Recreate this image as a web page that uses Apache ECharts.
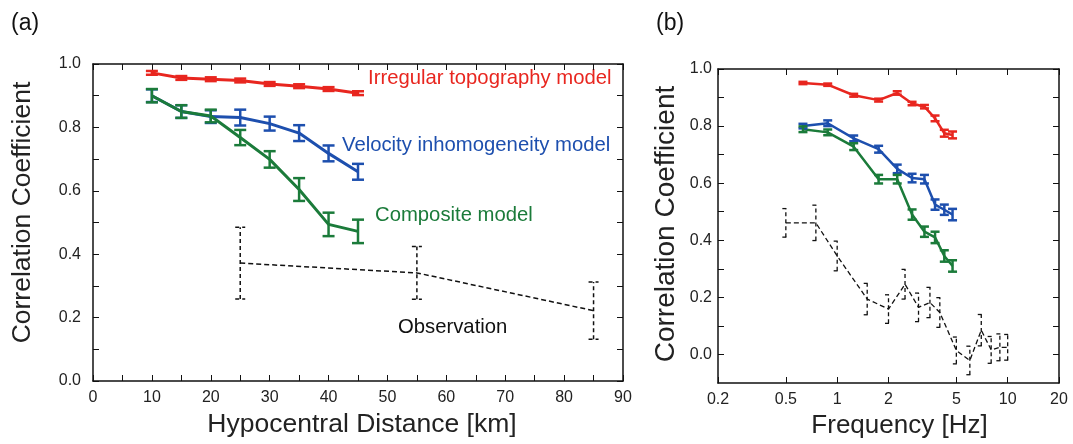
<!DOCTYPE html>
<html>
<head>
<meta charset="utf-8">
<script src="https://cdn.jsdelivr.net/npm/echarts@6/dist/echarts.min.js"></script>
<style>
html,body{margin:0;padding:0;background:#fff;}
#chart{width:1073px;height:444px;}
</style>
</head>
<body>
<div id="chart"></div>
<script>
// ---------- Panel (a): hypocentral distance ----------
const distA = [10, 15, 20, 25, 30, 35, 40, 45];
const topoA = [0.972, 0.956, 0.952, 0.948, 0.937, 0.930, 0.921, 0.908];
const topoErrA = [0.006, 0.006, 0.006, 0.006, 0.006, 0.006, 0.006, 0.006];
const veloA = [0.900, 0.850, 0.834, 0.831, 0.812, 0.782, 0.718, 0.660];
const veloErrA = [0.020, 0.020, 0.020, 0.025, 0.022, 0.025, 0.025, 0.025];
const compA = [0.900, 0.850, 0.836, 0.768, 0.699, 0.604, 0.494, 0.472];
const compErrA = [0.021, 0.020, 0.020, 0.024, 0.026, 0.036, 0.037, 0.037];
const obsDistA = [25, 55, 85];
const obsA = [0.372, 0.341, 0.222];
const obsErrA = [0.113, 0.083, 0.090];
const xTicksA = [0, 10, 20, 30, 40, 50, 60, 70, 80, 90];

// ---------- Panel (b): frequency ----------
const freqB = [0.63, 0.88, 1.25, 1.75, 2.25, 2.75, 3.25, 3.75, 4.25, 4.75];
const topoB = [0.951, 0.945, 0.908, 0.891, 0.916, 0.879, 0.868, 0.827, 0.775, 0.769];
const topoErrB = [0.004, 0.004, 0.005, 0.005, 0.006, 0.006, 0.006, 0.010, 0.012, 0.012];
const veloB = [0.800, 0.810, 0.757, 0.719, 0.650, 0.618, 0.614, 0.525, 0.507, 0.490];
const veloErrB = [0.008, 0.010, 0.010, 0.012, 0.015, 0.015, 0.015, 0.018, 0.018, 0.020];
const compB = [0.789, 0.778, 0.728, 0.614, 0.614, 0.490, 0.430, 0.410, 0.345, 0.310];
const compErrB = [0.010, 0.010, 0.012, 0.015, 0.015, 0.018, 0.018, 0.020, 0.020, 0.020];
const obsFreqB = [0.5, 0.75, 1, 1.5, 2, 2.5, 3, 3.5, 4, 5, 6, 7, 8, 9, 10];
const obsB = [0.461, 0.461, 0.345, 0.194, 0.159, 0.246, 0.165, 0.182, 0.147, 0.014, -0.021, 0.085, 0.016, 0.025, 0.025];
const obsErrB = [0.050, 0.062, 0.052, 0.055, 0.050, 0.052, 0.050, 0.053, 0.052, 0.047, 0.050, 0.055, 0.047, 0.047, 0.045];
const xTicksB = [0.2, 0.5, 1, 2, 5, 10, 20];
const yLabels = [0.0, 0.2, 0.4, 0.6, 0.8, 1.0];
const yMinorTicks = [0.0, 0.1, 0.2, 0.3, 0.4, 0.5, 0.6, 0.7, 0.8, 0.9, 1.0];

const RED = '#e8261f', BLUE = '#1d4fae', GREEN = '#1b7b3a', BLACK = '#111';
const FONT = 'Liberation Sans, Arial, sans-serif';

const pairs = (xs, ys) => xs.map((x, i) => [x, ys[i]]);
const errData = (xs, ys, es) => xs.map((x, i) => [x, ys[i] - es[i], ys[i] + es[i]]);

function errRender(capHalf, color, width, dashed) {
  return function (params, api) {
    const x = api.value(0);
    const a = api.coord([x, api.value(1)]);
    const b = api.coord([x, api.value(2)]);
    const style = { stroke: color, lineWidth: width, lineDash: dashed ? [4, 3] : null, fill: null };
    return {
      type: 'group',
      children: [
        { type: 'line', shape: { x1: a[0], y1: a[1], x2: b[0], y2: b[1] }, style: style },
        { type: 'line', shape: { x1: a[0] - capHalf, y1: a[1], x2: a[0] + capHalf, y2: a[1] }, style: style },
        { type: 'line', shape: { x1: b[0] - capHalf, y1: b[1], x2: b[0] + capHalf, y2: b[1] }, style: style }
      ]
    };
  };
}

function lineSeries(xi, yi, data, color, width, dashed) {
  return {
    type: 'line', xAxisIndex: xi, yAxisIndex: yi, data: data, symbol: 'none',
    lineStyle: { color: color, width: width, type: dashed ? [5, 3] : 'solid' },
    silent: true, animation: false, z: 3
  };
}
function errSeries(xi, yi, data, capHalf, color, width, dashed) {
  return {
    type: 'custom', xAxisIndex: xi, yAxisIndex: yi, data: data,
    encode: { x: 0, y: [1, 2] }, renderItem: errRender(capHalf, color, width, dashed),
    silent: true, animation: false, z: 4
  };
}

const axisLine = { show: true, onZero: false, lineStyle: { color: '#111', width: 1.5 } };
const tickStyle = { show: true, inside: true, length: 6, lineStyle: { color: '#111', width: 1 } };
const labelStyle = { color: '#222', fontSize: 16, fontFamily: FONT };

const chart = echarts.init(document.getElementById('chart'), null, { renderer: 'canvas' });
chart.setOption({
  animation: false,
  textStyle: { fontFamily: FONT },
  title: [
    { text: '(a)', left: 6, top: 7, textStyle: { fontSize: 23, fontWeight: 'normal', color: '#111', fontFamily: FONT } },
    { text: '(b)', left: 651, top: 7, textStyle: { fontSize: 23, fontWeight: 'normal', color: '#111', fontFamily: FONT } }
  ],
  grid: [
    { left: 93, top: 64, width: 530, height: 317 },
    { left: 718, top: 69, width: 341, height: 317 }
  ],
  xAxis: [
    {
      gridIndex: 0, type: 'value', min: 0, max: 90, interval: 10, position: 'bottom',
      axisLine: axisLine, axisTick: tickStyle,
      minorTick: { show: true, splitNumber: 2, length: 6, lineStyle: { color: '#111', width: 1 } },
      axisLabel: Object.assign({ margin: 9, customValues: xTicksA }, labelStyle),
      splitLine: { show: false },
      name: 'Hypocentral Distance [km]', nameLocation: 'middle', nameGap: 30,
      nameTextStyle: { fontSize: 26.5, color: '#222', fontFamily: FONT, padding: [0, 0, 0, 8] }
    },
    {
      gridIndex: 0, type: 'value', min: 0, max: 90, interval: 10, position: 'top',
      axisLine: axisLine, axisTick: tickStyle,
      minorTick: { show: true, splitNumber: 2, length: 6, lineStyle: { color: '#111', width: 1 } },
      axisLabel: { show: false }, splitLine: { show: false }
    },
    {
      gridIndex: 1, type: 'log', logBase: 10, min: 0.2, max: 20, position: 'bottom',
      axisLine: axisLine,
      axisTick: Object.assign({ customValues: xTicksB }, tickStyle),
      axisLabel: Object.assign({ margin: 9, customValues: xTicksB, formatter: v => String(+v.toPrecision(3)) }, labelStyle),
      splitLine: { show: false }, minorTick: { show: false },
      name: 'Frequency [Hz]', nameLocation: 'middle', nameGap: 30,
      nameTextStyle: { fontSize: 26, color: '#222', fontFamily: FONT, padding: [0, 0, 0, 22] }
    },
    {
      gridIndex: 1, type: 'log', logBase: 10, min: 0.2, max: 20, position: 'top',
      axisLine: axisLine,
      axisTick: Object.assign({ customValues: xTicksB }, tickStyle),
      axisLabel: { show: false }, splitLine: { show: false }, minorTick: { show: false }
    }
  ],
  yAxis: [
    {
      gridIndex: 0, type: 'value', min: 0, max: 1, interval: 0.2, position: 'left',
      axisLine: axisLine, axisTick: tickStyle,
      minorTick: { show: true, splitNumber: 2, length: 6, lineStyle: { color: '#111', width: 1 } },
      axisLabel: Object.assign({ margin: 12, formatter: v => v.toFixed(1) }, labelStyle),
      splitLine: { show: false },
      name: 'Correlation Coefficient', nameLocation: 'middle', nameGap: 57,
      nameTextStyle: { fontSize: 26.5, color: '#222', fontFamily: FONT, padding: [0, 0, 0, 20] }
    },
    {
      gridIndex: 0, type: 'value', min: 0, max: 1, interval: 0.2, position: 'right',
      axisLine: axisLine, axisTick: tickStyle,
      minorTick: { show: true, splitNumber: 2, length: 6, lineStyle: { color: '#111', width: 1 } },
      axisLabel: { show: false }, splitLine: { show: false }
    },
    {
      gridIndex: 1, type: 'value', min: -0.1, max: 1, position: 'left',
      axisLine: axisLine,
      axisTick: Object.assign({ customValues: yMinorTicks }, tickStyle),
      axisLabel: Object.assign({ margin: 6, customValues: yLabels, formatter: v => v.toFixed(1) }, labelStyle),
      splitLine: { show: false }, minorTick: { show: false },
      name: 'Correlation Coefficient', nameLocation: 'middle', nameGap: 38,
      nameTextStyle: { fontSize: 28, color: '#222', fontFamily: FONT, padding: [0, 0, 0, 4] }
    },
    {
      gridIndex: 1, type: 'value', min: -0.1, max: 1, position: 'right',
      axisLine: axisLine,
      axisTick: Object.assign({ customValues: yMinorTicks }, tickStyle),
      axisLabel: { show: false }, splitLine: { show: false }, minorTick: { show: false }
    }
  ],
  graphic: [
    { type: 'text', x: 368, y: 78, style: { text: 'Irregular topography model', fill: RED, fontSize: 20.3, fontFamily: FONT, verticalAlign: 'middle' } },
    { type: 'text', x: 342, y: 145, style: { text: 'Velocity inhomogeneity model', fill: BLUE, fontSize: 20.3, fontFamily: FONT, verticalAlign: 'middle' } },
    { type: 'text', x: 375, y: 215, style: { text: 'Composite model', fill: GREEN, fontSize: 20.3, fontFamily: FONT, verticalAlign: 'middle' } },
    { type: 'text', x: 398, y: 327, style: { text: 'Observation', fill: BLACK, fontSize: 20.3, fontFamily: FONT, verticalAlign: 'middle' } }
  ],
  series: [
    // panel (a)
    lineSeries(0, 0, pairs(distA, topoA), RED, 3),
    errSeries(0, 0, errData(distA, topoA, topoErrA), 6, RED, 2.5),
    lineSeries(0, 0, pairs(distA, veloA), BLUE, 3),
    errSeries(0, 0, errData(distA, veloA, veloErrA), 6, BLUE, 2.5),
    lineSeries(0, 0, pairs(distA, compA), GREEN, 3),
    errSeries(0, 0, errData(distA, compA, compErrA), 6, GREEN, 2.5),
    lineSeries(0, 0, pairs(obsDistA, obsA), BLACK, 1.5, true),
    errSeries(0, 0, errData(obsDistA, obsA, obsErrA), 5, BLACK, 1.5, true),
    // panel (b)
    lineSeries(2, 2, pairs(freqB, topoB), RED, 2.5),
    errSeries(2, 2, errData(freqB, topoB, topoErrB), 4.5, RED, 2.5),
    lineSeries(2, 2, pairs(freqB, veloB), BLUE, 2.5),
    errSeries(2, 2, errData(freqB, veloB, veloErrB), 4.5, BLUE, 2.5),
    lineSeries(2, 2, pairs(freqB, compB), GREEN, 2.5),
    errSeries(2, 2, errData(freqB, compB, compErrB), 4.5, GREEN, 2.5),
    lineSeries(2, 2, pairs(obsFreqB, obsB), BLACK, 1.3, true),
    errSeries(2, 2, errData(obsFreqB, obsB, obsErrB), 3.5, BLACK, 1.3, true)
  ]
});
</script>
</body>
</html>
